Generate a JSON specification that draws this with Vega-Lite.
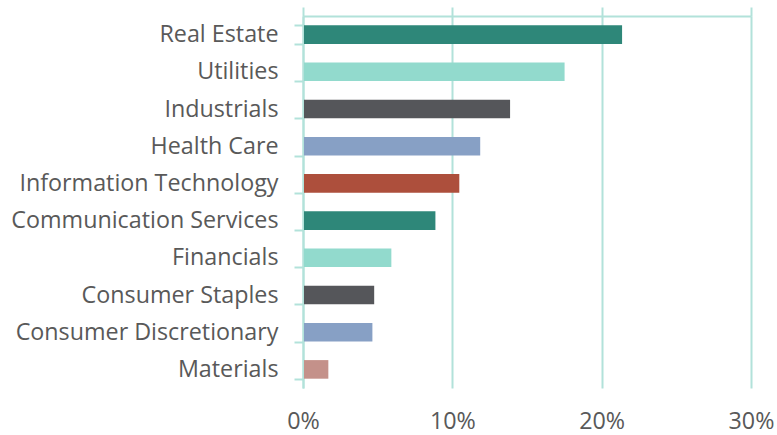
{
  "$schema": "https://vega.github.io/schema/vega-lite/v6.json",
  "width": 448,
  "height": 372,
  "autosize": {"type": "none"},
  "padding": {"left": 303, "top": 16, "right": 26, "bottom": 47},
  "background": "white",
  "config": {"view": {"stroke": null}, "font": "Open Sans"},
  "data": {
    "values": [
      {"sector": "Real Estate", "value": 0.213},
      {"sector": "Utilities", "value": 0.1745},
      {"sector": "Industrials", "value": 0.138},
      {"sector": "Health Care", "value": 0.118},
      {"sector": "Information Technology", "value": 0.104},
      {"sector": "Communication Services", "value": 0.088},
      {"sector": "Financials", "value": 0.0585},
      {"sector": "Consumer Staples", "value": 0.047},
      {"sector": "Consumer Discretionary", "value": 0.0458},
      {"sector": "Materials", "value": 0.0163}
    ]
  },
  "resolve": {"axis": {"x": "independent"}},
  "layer": [
    {
      "mark": {"type": "bar", "xOffset": 1},
      "encoding": {
        "y": {
          "field": "sector",
          "type": "nominal",
          "sort": null,
          "scale": {"paddingInner": 0.5, "paddingOuter": 0.25},
          "axis": {
            "title": null,
            "orient": "left",
            "domainColor": "#B2E2DA",
            "domainWidth": 2,
            "tickColor": "#B2E2DA",
            "tickWidth": 2,
            "tickSize": 9,
            "tickBand": "extent",
            "grid": false,
            "labelFont": "Open Sans",
            "labelFontSize": 23.3,
            "labelColor": "#595959",
            "labelPadding": 16,
            "labelLimit": 400
          }
        },
        "x": {
          "field": "value",
          "type": "quantitative",
          "scale": {"domain": [0, 0.3], "nice": false},
          "axis": {
            "title": null,
            "orient": "bottom",
            "format": ".0%",
            "values": [0, 0.1, 0.2, 0.3],
            "domain": false,
            "ticks": false,
            "grid": true,
            "gridColor": "#B2E2DA",
            "gridWidth": 2,
            "labelFont": "Open Sans",
            "labelFontSize": 23.3,
            "labelColor": "#595959",
            "labelPadding": 22,
            "labelFlush": false
          }
        },
        "color": {
          "field": "sector",
          "type": "nominal",
          "legend": null,
          "scale": {
            "domain": ["Real Estate", "Utilities", "Industrials", "Health Care", "Information Technology", "Communication Services", "Financials", "Consumer Staples", "Consumer Discretionary", "Materials"],
            "range": ["#2E8779", "#92DACD", "#55565A", "#87A0C5", "#AD4F3C", "#2E8779", "#92DACD", "#55565A", "#87A0C5", "#C4918A"]
          }
        }
      }
    },
    {
      "mark": {"type": "bar", "opacity": 0},
      "encoding": {
        "y": {"field": "sector", "type": "nominal", "sort": null},
        "x": {
          "field": "value",
          "type": "quantitative",
          "axis": {
            "title": null,
            "orient": "top",
            "values": [0, 0.1, 0.2, 0.3],
            "labels": false,
            "grid": false,
            "domain": true,
            "domainColor": "#B2E2DA",
            "domainWidth": 2,
            "ticks": true,
            "tickColor": "#B2E2DA",
            "tickWidth": 2,
            "tickSize": 9
          }
        }
      }
    }
  ]
}
